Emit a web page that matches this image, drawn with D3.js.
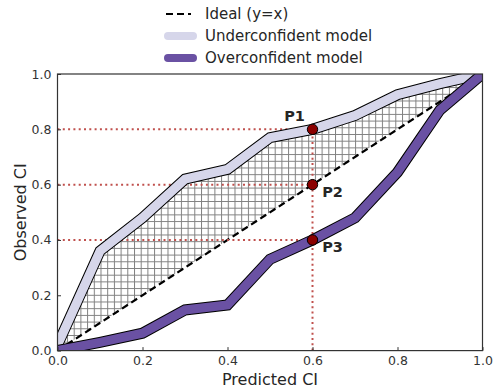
<!DOCTYPE html>
<html>
<head>
<meta charset="utf-8">
<script src="https://cdn.jsdelivr.net/npm/d3@7"></script>
<style>
  body { margin: 0; background: #fff; }
  svg { display: block; font-family: "DejaVu Sans", sans-serif; }
</style>
</head>
<body>
<svg id="chart" width="494" height="392"></svg>
<script>
// Reliability of predicted confidence intervals
const predicted = [0, 0.1, 0.2, 0.3, 0.4, 0.5, 0.6, 0.7, 0.8, 0.9, 1.0];
const underconfident = [0.02, 0.36, 0.48, 0.62, 0.655, 0.77, 0.80, 0.85, 0.925, 0.965, 1.0];
const overconfident = [0.0, 0.03, 0.063, 0.147, 0.165, 0.33, 0.40, 0.48, 0.645, 0.87, 1.0];
const tickValues = [0, 0.2, 0.4, 0.6, 0.8, 1.0];
const markerX = 0.6;
const markerNames = ["P1", "P2", "P3"];
const markerY = [0.8, 0.6, 0.4];
const legendLabels = ["Ideal (y=x)", "Underconfident model", "Overconfident model"];

const svg = d3.select("#chart");
const margin = { left: 57.5, right: 11.5, top: 74, bottom: 41.4 };
const W = 494, H = 392;
const x = d3.scaleLinear().domain([0, 1]).range([margin.left, W - margin.right]);
const y = d3.scaleLinear().domain([0, 1]).range([H - margin.bottom, margin.top]);

const lightColor = "#d6d6ea";
const darkColor = "#6a51a3";
const guideColor = "#c0504d";
const textColor = "#262626";

const defs = svg.append("defs");
defs.append("clipPath").attr("id", "plot-clip")
  .append("rect")
  .attr("x", x(0)).attr("y", y(1))
  .attr("width", x(1) - x(0)).attr("height", y(0) - y(1));

// cross-hatch pattern for the gap between the underconfident curve and the diagonal
const pat = defs.append("pattern").attr("id", "hatch")
  .attr("patternUnits", "userSpaceOnUse")
  .attr("width", 6.7).attr("height", 6.7);
pat.append("path").attr("d", "M0,0.5H6.7M0.5,0V6.7")
  .attr("stroke", "#808080").attr("stroke-width", 1).attr("fill", "none");

const plot = svg.append("g").attr("clip-path", "url(#plot-clip)");

const area = d3.area()
  .x((d, i) => x(predicted[i]))
  .y0((d, i) => y(predicted[i]))
  .y1(d => y(d));
plot.append("path").datum(underconfident)
  .attr("d", area)
  .attr("fill", "url(#hatch)");

// ideal diagonal
plot.append("line")
  .attr("x1", x(0)).attr("y1", y(0)).attr("x2", x(1)).attr("y2", y(1))
  .attr("stroke", "#000").attr("stroke-width", 2.2)
  .attr("stroke-dasharray", "7,4");

// dotted guides to the markers
markerY.forEach(v => {
  plot.append("line")
    .attr("x1", x(0)).attr("x2", x(markerX))
    .attr("y1", y(v)).attr("y2", y(v))
    .attr("stroke", guideColor).attr("stroke-width", 2)
    .attr("stroke-dasharray", "2,3.3");
});
plot.append("line")
  .attr("x1", x(markerX)).attr("x2", x(markerX))
  .attr("y1", y(0)).attr("y2", y(d3.max(markerY)))
  .attr("stroke", guideColor).attr("stroke-width", 2)
  .attr("stroke-dasharray", "2,3.3");

// model curves drawn as thick bands with a black outline
const line = d3.line().x((d, i) => x(predicted[i])).y(d => y(d));
[[underconfident, lightColor], [overconfident, darkColor]].forEach(([vals, col]) => {
  plot.append("path").datum(vals).attr("d", line)
    .attr("fill", "none").attr("stroke", "#000").attr("stroke-width", 11)
    .attr("stroke-linejoin", "miter");
  plot.append("path").datum(vals).attr("d", line)
    .attr("fill", "none").attr("stroke", col).attr("stroke-width", 9)
    .attr("stroke-linejoin", "miter");
});

// markers
markerY.forEach((v, i) => {
  svg.append("circle")
    .attr("cx", x(markerX)).attr("cy", y(v)).attr("r", 5.2)
    .attr("fill", "#8b0000").attr("stroke", "#000").attr("stroke-width", 1);
});
const labelPos = [[-18, -12], [20, 8], [20, 8]];
markerNames.forEach((n, i) => {
  svg.append("text")
    .attr("x", x(markerX) + labelPos[i][0]).attr("y", y(markerY[i]) + labelPos[i][1])
    .attr("text-anchor", "middle").attr("dominant-baseline", "middle")
    .attr("font-size", 14.5).attr("font-weight", "bold")
    .attr("fill", textColor)
    .text(n);
});

// axes with inward ticks
const xAxis = d3.axisBottom(x).tickValues(tickValues).tickFormat(d3.format(".1f"))
  .tickSizeInner(-3.5).tickSizeOuter(0).tickPadding(6);
const yAxis = d3.axisLeft(y).tickValues(tickValues).tickFormat(d3.format(".1f"))
  .tickSizeInner(-3.5).tickSizeOuter(0).tickPadding(6);
const gx = svg.append("g").attr("transform", `translate(0,${y(0)})`).call(xAxis);
const gy = svg.append("g").attr("transform", `translate(${x(0)},0)`).call(yAxis);
[gx, gy].forEach(g => {
  g.select(".domain").remove();
  g.selectAll(".tick line").attr("stroke", "#333").attr("stroke-width", 1);
  g.selectAll(".tick text").attr("font-size", 12.5).attr("fill", "#333")
    .attr("font-family", "DejaVu Sans, sans-serif");
});

// frame
svg.append("rect")
  .attr("x", x(0)).attr("y", y(1))
  .attr("width", x(1) - x(0)).attr("height", y(0) - y(1))
  .attr("fill", "none").attr("stroke", "#333").attr("stroke-width", 1.2);

// axis titles
svg.append("text").attr("x", (x(0) + x(1)) / 2).attr("y", 385)
  .attr("text-anchor", "middle").attr("font-size", 16).attr("fill", textColor)
  .text("Predicted CI");
svg.append("text")
  .attr("transform", `translate(26,${(y(0) + y(1)) / 2}) rotate(-90)`)
  .attr("text-anchor", "middle").attr("font-size", 16).attr("fill", textColor)
  .text("Observed CI");

// legend
const legend = svg.append("g");
const legendY = [14, 36, 58];
legendLabels.forEach((lab, i) => {
  const yy = legendY[i];
  if (i === 0) {
    legend.append("line").attr("x1", 166).attr("x2", 191).attr("y1", yy).attr("y2", yy)
      .attr("stroke", "#000").attr("stroke-width", 2.2).attr("stroke-dasharray", "7,4");
  } else {
    const col = i === 1 ? lightColor : darkColor;
    legend.append("line").attr("x1", 168).attr("x2", 193).attr("y1", yy).attr("y2", yy)
      .attr("stroke", col).attr("stroke-width", 8).attr("stroke-linecap", "round");
  }
  legend.append("text").attr("x", 205).attr("y", yy).attr("dominant-baseline", "middle")
    .attr("font-size", 15).attr("fill", textColor).text(lab);
});
</script>
</body>
</html>
